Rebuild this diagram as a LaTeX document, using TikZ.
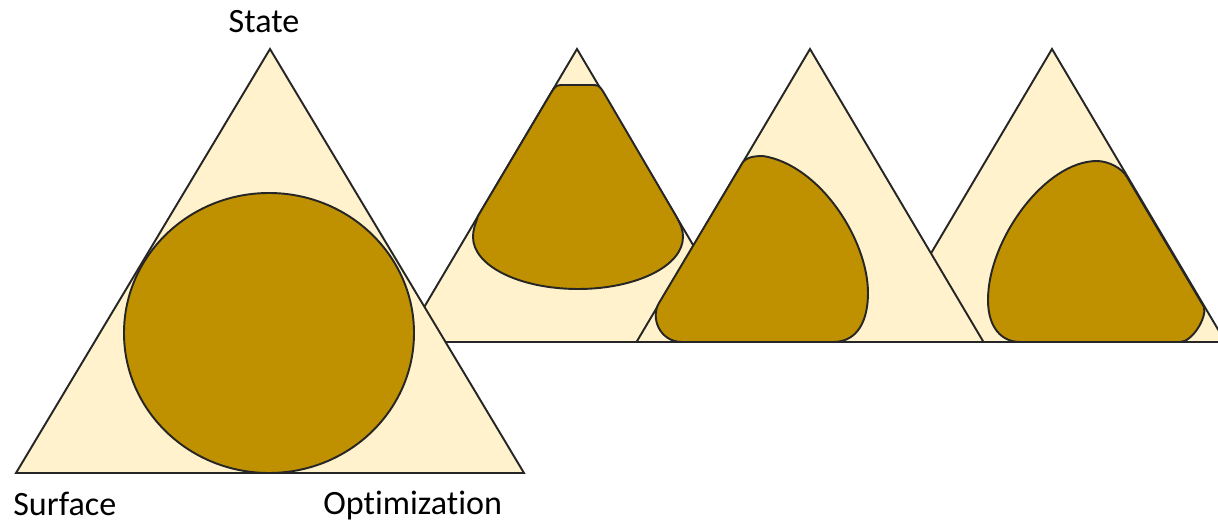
\documentclass[tikz,border=0pt]{standalone}
\usepackage{fontspec}
\setmainfont{Carlito}[Ligatures=NoCommon]
\usepackage{tikz}
\usetikzlibrary{positioning}

\definecolor{cream}{HTML}{FFF2CC}
\definecolor{gold}{HTML}{BF9000}
\definecolor{edge}{HTML}{262626}

\begin{document}
\begin{tikzpicture}[
  x=0.02cm, y=-0.02cm,
  tri/.style={fill=cream, draw=edge, line width=1.1pt},
  blob/.style={fill=gold, draw=edge, line width=1.1pt},
  lbl/.style={font=\fontsize{19.4}{23}\selectfont, inner sep=0pt, anchor=base west}
]
  \useasboundingbox (0,0) rectangle (1218,524);
  \clip (0,0) rectangle (1218,524);

  % second triangle (cone shape)
  \draw[tri] (577,49) -- (750.5,342) -- (403.5,342) -- cycle;
  \draw[blob] (478,216) -- (551,93) .. controls (556,85) .. (565,85) -- (590,85)
    .. controls (599,85) .. (604,93) -- (676,216)
    .. controls (681,225) and (683,230) .. (683,237)
    .. controls (683,266) and (636,289) .. (578,289)
    .. controls (520,289) and (473,266) .. (473,237)
    .. controls (473,230) and (475,225) .. (478,216) -- cycle;

  % fourth triangle
  \draw[tri] (1052,49) -- (1225.5,342) -- (878.5,342) -- cycle;
  \draw[blob] (1020,342) -- (1180,342) .. controls (1192,342) and (1207,318) .. (1204,307)
    -- (1127,177) .. controls (1122,168) and (1108,161) .. (1097,161)
    .. controls (1045,161) and (988,240) .. (988,300)
    .. controls (988,328) and (1002,342) .. (1020,342) -- cycle;

  % third triangle
  \draw[tri] (810,49) -- (983.5,342) -- (636.5,342) -- cycle;
  \draw[blob] (682,342) -- (833,342) .. controls (858,342) and (868,320) .. (868,293)
    .. controls (868,240) and (820,165) .. (763,156)
    .. controls (752,156) and (746,158) .. (743,162) -- (659,303)
    .. controls (650,318) and (660,342) .. (682,342) -- cycle;

  % main triangle with inscribed circle
  \draw[tri] (270,49) -- (524,473) -- (16,473) -- cycle;
  \draw[blob] (269,333) ellipse[x radius=145, y radius=140];

  \node[lbl, anchor=base] (state) at (264,32) {State};
  \node[lbl] (surface) at (13,515) {Surface};
  \node[lbl] (optim) at (323,514) {Optimization};
\end{tikzpicture}
\end{document}
